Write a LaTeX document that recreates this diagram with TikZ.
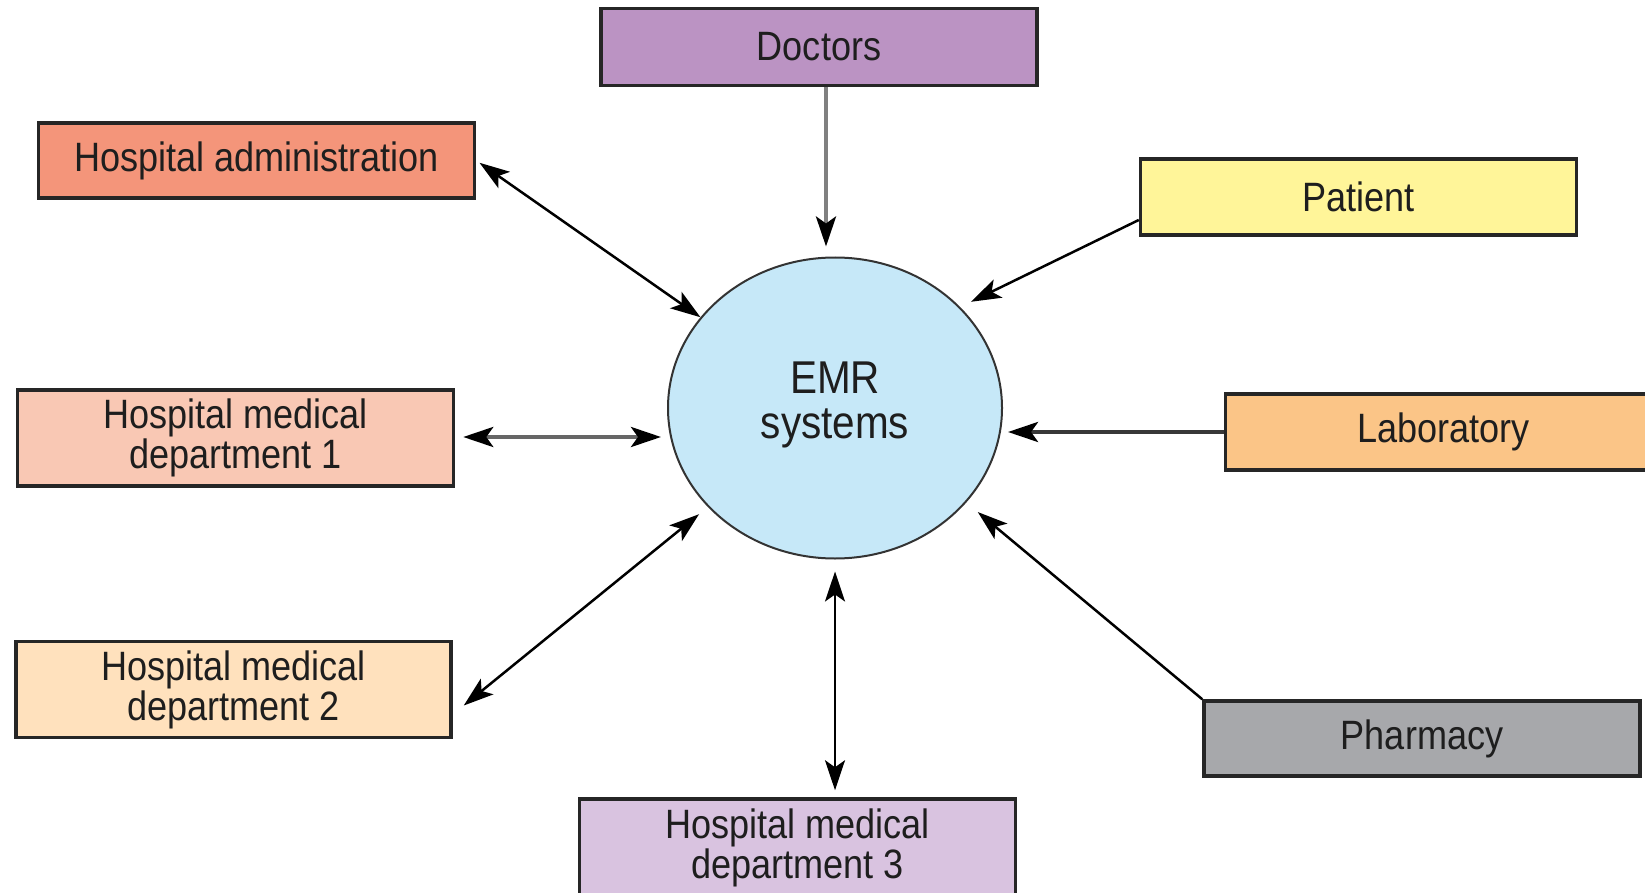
\documentclass[tikz,border=0pt]{standalone}
\usepackage{fontspec}
\setmainfont{Liberation Sans}[FakeStretch=0.88]
\usetikzlibrary{shapes.geometric,arrows.meta}
\definecolor{cdoc}{HTML}{BB93C3}
\definecolor{cadm}{HTML}{F4957A}
\definecolor{cpat}{HTML}{FFF599}
\definecolor{cdepA}{HTML}{F9C8B4}
\definecolor{clab}{HTML}{FBC587}
\definecolor{cdepB}{HTML}{FFE1BD}
\definecolor{cdepC}{HTML}{D9C3E0}
\definecolor{cpha}{HTML}{A7A8AB}
\definecolor{cemr}{HTML}{C6E8F8}
\definecolor{ctxt}{HTML}{1E1E1E}
\tikzset{
  box/.style={draw=black!85, line width=3.5pt, rectangle, inner sep=0pt,
    minimum width=436pt, minimum height=76pt, align=center, text=ctxt,
    font=\fontsize{41}{40}\selectfont},
  tall/.style={minimum height=96pt},
  arrowhead/.tip={Stealth[length=30pt,width=20pt,inset=7pt,black]},
  tip/.style={-arrowhead},
  bitip/.style={arrowhead-arrowhead},
  link/.style={line width=2.5pt, black},
}
\begin{document}
\begin{tikzpicture}[x=1pt,y=-1pt]
\clip (0,0) rectangle (1645,893);
\fill[white] (0,0) rectangle (1645,893);
% nodes
\node[box, fill=cdoc, minimum height=77pt] (doctors) at (819,47) {Doctors};
\node[box, fill=cadm, minimum height=75pt] (admin) at (256.5,160.5) {Hospital administration};
\node[box, fill=cpat] (patient) at (1358.5,197) {Patient};
\node[box, tall, fill=cdepA] (depA) at (235.5,438) {Hospital medical\\department 1};
\node[box, fill=clab] (lab) at (1443.5,432) {Laboratory};
\node[box, tall, fill=cdepB, minimum width=435pt] (depB) at (233.5,689.5) {Hospital medical\\department 2};
\node[box, tall, fill=cdepC, minimum height=97pt] (depC) at (797.5,847.5) {Hospital medical\\department 3};
\node[box, fill=cpha, minimum height=75pt] (pharm) at (1422,738.5) {Pharmacy};
\node[ellipse, draw=black!80, line width=2pt, fill=cemr, minimum width=334pt,
      minimum height=301pt, inner sep=0pt, align=center, text=ctxt,
      font=\fontsize{46}{45}\selectfont] (emr) at (835,408) {EMR\\systems\\[-29pt]};
% connectors
\draw[tip, line width=4pt, black!50] ([xshift=7pt]doctors.south) -- ([xshift=-9pt,yshift=10pt]emr.north);
\draw[bitip, link, shorten <=4pt] (admin.east) -- (emr.146);
\draw[tip, link] ([yshift=-23pt]patient.west) -- ([xshift=9pt,yshift=7pt]emr.38);
\draw[bitip, line width=4pt, black!60, shorten <=8pt, shorten >=6pt] ([yshift=1pt]depA.east) -- ([yshift=1pt]depA.east -| emr.west);
\draw[tip, line width=4pt, black!78, shorten >=5pt] (lab.west) -- (lab.west -| emr.east);
\draw[bitip, link] ([xshift=11pt,yshift=-16pt]depB.east) -- ([xshift=-9pt,yshift=-7pt]emr.218);
\draw[bitip, link, shorten <=12pt, shorten >=7pt] (emr.south) -- (emr.south |- depC.north);
\draw[tip, link] (pharm.north west) -- ([xshift=12pt,yshift=-9pt]emr.-36);
\end{tikzpicture}
\end{document}
